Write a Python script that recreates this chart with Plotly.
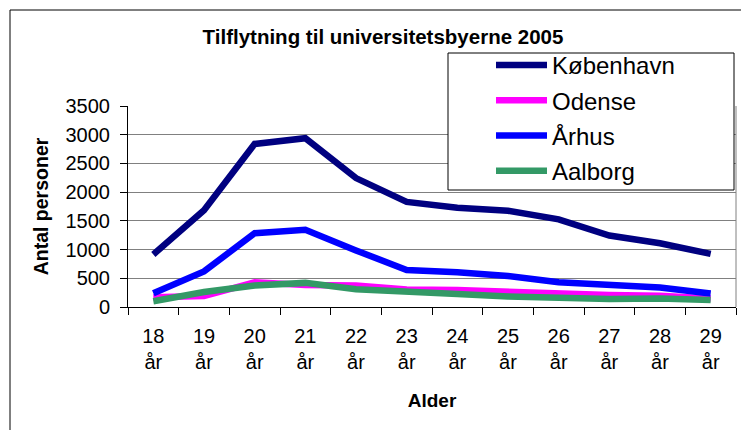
import plotly.graph_objects as go

# aldre 18-29 aar
ages = [18, 19, 20, 21, 22, 23, 24, 25, 26, 27, 28, 29]
age_labels = [f"{a}<br>år" for a in ages]

kobenhavn = [915, 1685, 2840, 2940, 2245, 1830, 1730, 1675, 1525, 1245, 1110, 925]
odense = [170, 190, 430, 385, 375, 305, 295, 265, 225, 210, 195, 150]
aarhus = [240, 620, 1285, 1345, 985, 645, 605, 540, 430, 385, 340, 235]
aalborg = [100, 260, 375, 420, 310, 255, 225, 185, 150, 140, 150, 120]

series = [
    ("København", kobenhavn, "#000080"),
    ("Odense", odense, "#FF00FF"),
    ("Århus", aarhus, "#0000FF"),
    ("Aalborg", aalborg, "#339966"),
]

FONT = "Arial, Liberation Sans, sans-serif"

fig = go.Figure()
for name, vals, col in series:
    fig.add_trace(go.Scatter(
        x=age_labels, y=vals, name=name, mode="lines",
        legendgroup=name,
        line=dict(color=col, width=6.5),
    ))

# siden har 8px body-margin, saa figuren ligger forskudt 8px
OFF = 8
W, H = 749, 430
L, T = 128 - OFF, 106 - OFF
R, B = W - (736 - OFF), H - (307 - OFF)
pw, ph = W - L - R, H - T - B


def px(x):
    # skaermpixel -> paper
    return (x - OFF - L) / pw


def py(y):
    return (H - B - (y - OFF)) / ph


fig.update_layout(
    width=W, height=H,
    margin=dict(l=L, r=R, t=T, b=B),
    paper_bgcolor="white", plot_bgcolor="white",
    font=dict(family=FONT, color="black"),
    title=dict(
        text="<b>Tilflytning til universitetsbyerne 2005</b>",
        x=(383 - OFF) / W, xanchor="center", y=1 - (37 - OFF) / H, yanchor="middle",
        font=dict(size=20.5, family=FONT),
    ),
    showlegend=True,
    legend=dict(
        x=px(491), xanchor="left", y=py(43), yanchor="top",
        bgcolor="rgba(0,0,0,0)", borderwidth=0,
        font=dict(size=24, family=FONT),
        tracegroupgap=1, itemwidth=51,
    ),
    shapes=[
        # ramme om hele diagrammet
        dict(type="rect", xref="paper", yref="paper",
             x0=px(10), x1=px(800), y0=py(480), y1=py(10),
             line=dict(color="black", width=1), fillcolor="rgba(0,0,0,0)",
             layer="below"),
        # hoejre kant af plotomraadet
        dict(type="line", xref="paper", yref="paper",
             x0=1, x1=1, y0=0, y1=1, line=dict(color="#808080", width=1)),
        # legendeboks
        dict(type="rect", xref="paper", yref="paper",
             x0=px(448), x1=px(734), y0=py(190), y1=py(53),
             line=dict(color="black", width=1), fillcolor="white",
             layer="above"),
    ],
)

fig.update_xaxes(
    type="category", range=[-0.5, len(ages) - 0.5],
    showline=True, linecolor="black", linewidth=1,
    ticks="outside", tickson="boundaries", ticklen=7, tickcolor="black",
    showgrid=False, ticklabelstandoff=11,
    tickfont=dict(size=20, family=FONT),
    title=dict(text="<b>Alder</b>", font=dict(size=19, family=FONT), standoff=21),
)
fig.update_yaxes(
    range=[0, 3500], dtick=500,
    showline=True, linecolor="black", linewidth=1,
    ticks="outside", ticklen=7, tickcolor="black",
    showgrid=True, gridcolor="#808080", gridwidth=1,
    zeroline=False, ticklabelstandoff=6,
    tickfont=dict(size=20, family=FONT),
    title=dict(text="<b>Antal personer</b>", font=dict(size=19.5, family=FONT), standoff=11),
)

fig.write_html("out.html")
